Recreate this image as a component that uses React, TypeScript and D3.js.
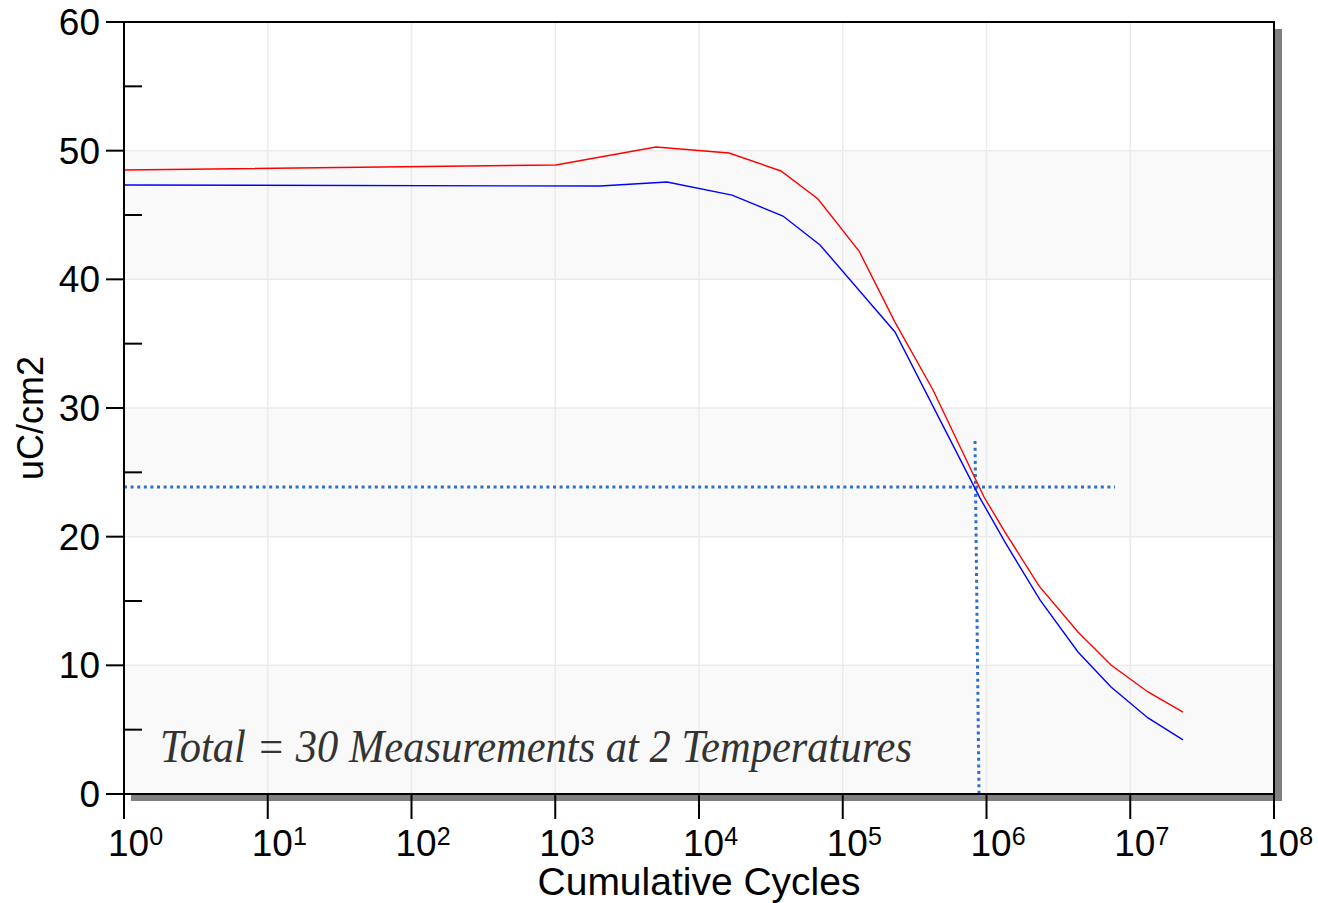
import React from "react";
import * as d3 from "d3";

const redCycles = [1, 1012, 5020, 16180, 37170, 67300, 129800, 230800, 424500, 961000, 1.345e6, 2.318e6, 4.33e6, 7.35e6, 1.329e7, 2.328e7];
const redValues = [48.5, 48.89, 50.28, 49.82, 48.42, 46.24, 42.2, 36.68, 31.4, 23.08, 20.36, 16.17, 12.59, 10.03, 7.93, 6.37];
const blueCycles = [1, 2048, 5990, 16980, 38380, 69500, 230800, 901000, 1.345e6, 2.355e6, 4.33e6, 7.35e6, 1.329e7, 2.328e7];
const blueValues = [47.33, 47.25, 47.56, 46.55, 44.92, 42.67, 35.91, 23.0, 19.58, 15.08, 11.04, 8.32, 5.91, 4.2];
const xExponents = [0, 1, 2, 3, 4, 5, 6, 7, 8];
const yTicks = [0, 10, 20, 30, 40, 50, 60];
const yMinorTicks = [5, 15, 25, 35, 45, 55];
const hRefLine = { y: 23.86, x0: 1, x1: 7.83e6 };
const vRefLine = { xTop: 8.32e5, xBottom: 8.87e5, yTop: 27.43, yBottom: 0 };
const annotation = "Total = 30 Measurements at 2 Temperatures";

const L = 124, R = 1274, T = 22, B = 794;

export default function App() {
  const x = d3.scaleLog().domain([1, 1e8]).range([L, R]);
  const y = d3.scaleLinear().domain([0, 60]).range([B, T]);
  const line = d3.line<[number, number]>().x(d => x(d[0])).y(d => y(d[1]));
  const red = redCycles.map((c, i) => [c, redValues[i]] as [number, number]);
  const blue = blueCycles.map((c, i) => [c, blueValues[i]] as [number, number]);
  const sans = "'Liberation Sans', Arial, sans-serif";
  const bands = [0, 20, 40];
  return (
    <svg width={1318} height={903} style={{ position: "absolute", left: 0, top: 0 }} fontFamily={sans}>
      <rect x={0} y={0} width={1318} height={903} fill="#fff" />
      {/* shadow */}
      <rect x={R + 1} y={T + 7} width={7} height={B - T} fill="#808080" />
      <rect x={L + 7} y={B + 1} width={R - L + 1} height={6} fill="#808080" />
      {/* bands */}
      {bands.map(b => (
        <rect key={b} x={L} y={y(b + 10)} width={R - L} height={y(b) - y(b + 10)} fill="#f9f9f9" />
      ))}
      {/* grid */}
      {xExponents.slice(1, -1).map(e => (
        <line key={e} x1={x(Math.pow(10, e))} x2={x(Math.pow(10, e))} y1={T} y2={B} stroke="#ebebeb" strokeWidth={1.5} />
      ))}
      {yTicks.slice(1, -1).map(v => (
        <line key={v} x1={L} x2={R} y1={y(v)} y2={y(v)} stroke="#ebebeb" strokeWidth={1.5} />
      ))}
      {/* reference dotted lines */}
      <line x1={x(hRefLine.x0)} x2={x(hRefLine.x1)} y1={y(hRefLine.y)} y2={y(hRefLine.y)} stroke="#2f6fcc" strokeWidth={3} strokeDasharray="3 3.6" />
      <line x1={x(vRefLine.xTop)} x2={x(vRefLine.xBottom)} y1={y(vRefLine.yTop)} y2={y(vRefLine.yBottom)} stroke="#2f6fcc" strokeWidth={3} strokeDasharray="3 3.6" />
      {/* series */}
      <path d={line(red) || ""} fill="none" stroke="#ff0000" strokeWidth={1.4} />
      <path d={line(blue) || ""} fill="none" stroke="#0000ff" strokeWidth={1.4} />
      {/* annotation */}
      <text x={160} y={762} fontFamily="'Liberation Serif', 'Times New Roman', serif" fontStyle="italic" fontSize={46} fill="#333" textLength={752} lengthAdjust="spacingAndGlyphs">{annotation}</text>
      {/* frame */}
      <line x1={L} x2={R + 1} y1={T} y2={T} stroke="#000" strokeWidth={2} />
      <line x1={R} x2={R} y1={T} y2={B} stroke="#000" strokeWidth={2} />
      <line x1={L} x2={L} y1={T} y2={B + 1} stroke="#000" strokeWidth={2} />
      <line x1={L - 1} x2={R + 1} y1={B} y2={B} stroke="#000" strokeWidth={2} />
      {/* y ticks */}
      {yTicks.map(v => (
        <g key={v}>
          <line x1={L - 18} x2={L} y1={y(v)} y2={y(v)} stroke="#000" strokeWidth={2} />
          <text x={100} y={y(v) + 13} textAnchor="end" fontSize={37} fill="#000">{v}</text>
        </g>
      ))}
      {yMinorTicks.map(v => (
        <line key={v} x1={L} x2={L + 18} y1={y(v)} y2={y(v)} stroke="#000" strokeWidth={2} />
      ))}
      {/* x ticks */}
      {xExponents.map(e => {
        const px = x(Math.pow(10, e));
        return (
          <g key={e}>
            <line x1={px} x2={px} y1={B} y2={B + 25} stroke="#000" strokeWidth={2} />
            <text x={px - 16} y={856} fontSize={37} fill="#000">
              10<tspan fontSize={25} dy={-11}>{e}</tspan>
            </text>
          </g>
        );
      })}
      {/* axis titles */}
      <text x={699} y={895} textAnchor="middle" fontSize={39} fill="#000">Cumulative Cycles</text>
      <text transform={`translate(43, ${(T + B) / 2 + 10}) rotate(-90)`} textAnchor="middle" fontSize={36} fill="#000">uC/cm2</text>
    </svg>
  );
}
